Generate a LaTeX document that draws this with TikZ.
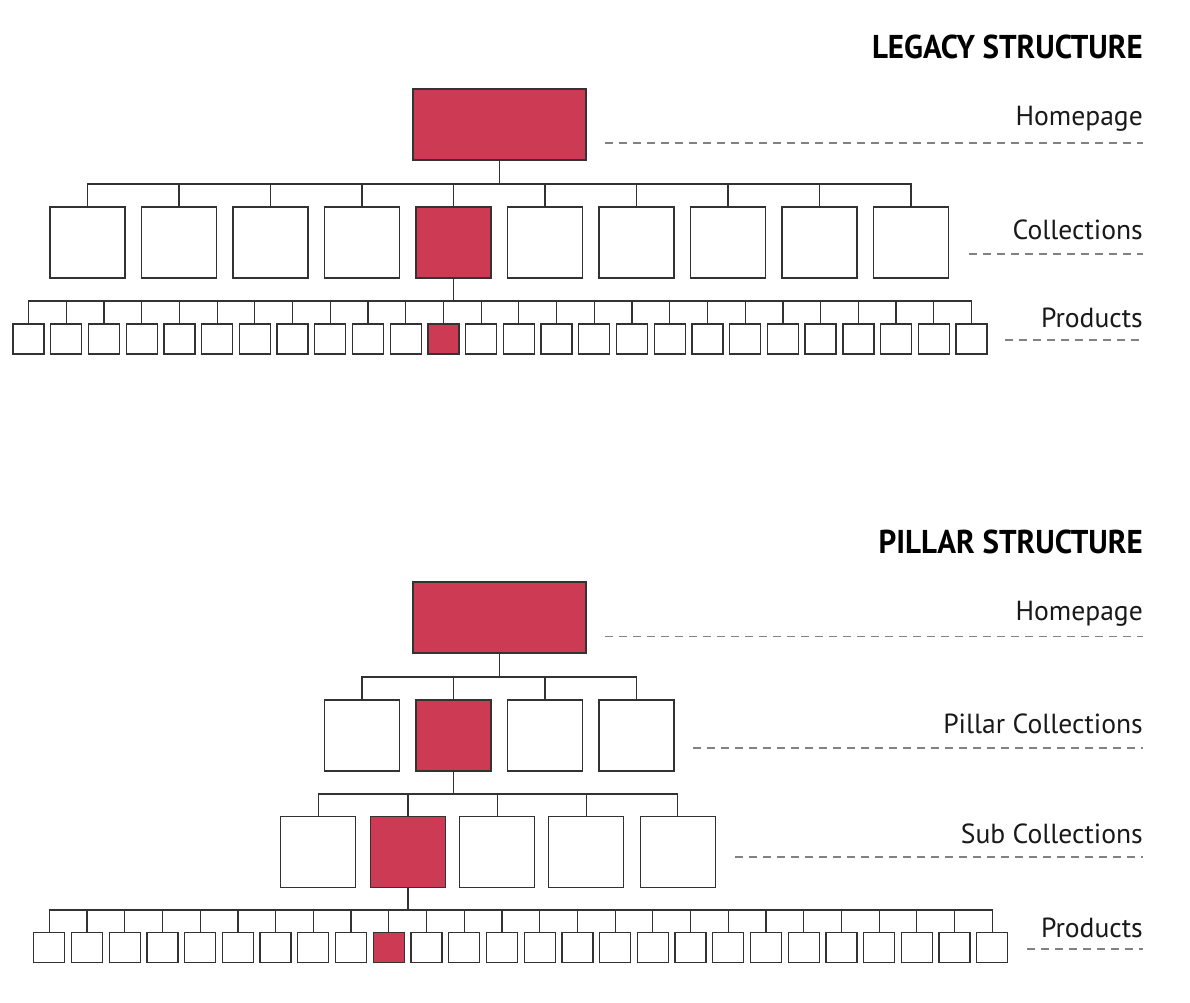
\documentclass[tikz,border=0pt]{standalone}
\usepackage{fontspec}
\setmainfont{PT Sans}
\newfontfamily\titlefont[FakeStretch=0.94]{PT Sans}
\definecolor{hl}{RGB}{204,58,84}
\definecolor{edge}{RGB}{50,50,50}
\definecolor{guide}{RGB}{130,130,130}
\begin{document}
\begin{tikzpicture}[x=1pt,y=-1pt,
  box/.style={draw=edge,line width=1.3pt,fill=white,rectangle,inner sep=0pt},
  bigbox/.style={box,minimum width=75pt,minimum height=71pt},
  smallbox/.style={box,minimum width=31pt,minimum height=30pt},
  hot/.style={fill=hl,draw=black!80},
  link/.style={draw=edge,line width=1.2pt},
  guideline/.style={draw=guide,line width=1.2pt,dash pattern=on 8pt off 6pt},
  title/.style={anchor=base east,inner sep=0pt,font=\titlefont\bfseries\fontsize{33}{33}\selectfont,text=black},
  level/.style={anchor=base east,inner sep=0pt,font=\fontsize{27.6}{27.6}\selectfont,text=black!90}]
\useasboundingbox[fill=white] (0,0) rectangle (1190,1002);

% ================= LEGACY =================
\node[title] (t1) at (1143,58) {LEGACY STRUCTURE};
\node[box,hot,minimum width=173pt,minimum height=71pt] (hp) at (499.5,124.5) {};
\coordinate (lbar) at (0,184);
\foreach \k in {0,...,9}{
  \pgfmathsetmacro\xx{87.5+91.5*\k}
  \ifnum\k=4
    \node[bigbox,hot] (lc\k) at (\xx,242.5) {};
  \else
    \node[bigbox] (lc\k) at (\xx,242.5) {};
  \fi
  \draw[link] (hp.south) -- (hp.south |- lbar) -| (lc\k.north);
}
\coordinate (lpbar) at (0,301);
\foreach \k in {0,...,25}{
  \pgfmathsetmacro\xx{28.5+37.72*\k}
  \ifnum\k=11
    \node[smallbox,hot] (lp\k) at (\xx,339) {};
  \else
    \node[smallbox] (lp\k) at (\xx,339) {};
  \fi
  \draw[link] (lc4.south) -- (lc4.south |- lpbar) -| (lp\k.north);
}
\node[level] (l1) at (1143,125) {Homepage};
\coordinate (g1a) at (605,143); \coordinate (g1b) at (1143,143);
\draw[guideline] (g1a) -- (g1b);
\node[level] (l2) at (1143,239) {Collections};
\coordinate (g2a) at (969,254); \coordinate (g2b) at (1143,254);
\draw[guideline] (g2a) -- (g2b);
\node[level] (l3) at (1143,327) {Products};
\coordinate (g3a) at (1005,340); \coordinate (g3b) at (1143,340);
\draw[guideline] (g3a) -- (g3b);

% ================= PILLAR =================
\node[title] (t2) at (1143,553) {PILLAR STRUCTURE};
\node[box,hot,minimum width=173pt,minimum height=71pt] (hp2) at (499.5,617.5) {};
\coordinate (pbar) at (0,677);
\foreach \xx [count=\k from 0] in {362,453.5,545,636.5}{
  \ifnum\k=1
    \node[bigbox,hot] (pc\k) at (\xx,735.5) {};
  \else
    \node[bigbox] (pc\k) at (\xx,735.5) {};
  \fi
  \draw[link] (hp2.south) -- (hp2.south |- pbar) -| (pc\k.north);
}
\coordinate (sbar) at (0,794);
\foreach \xx [count=\k from 0] in {318.3,408,497.2,586.3,677.8}{
  \ifnum\k=1
    \node[bigbox,hot] (sc\k) at (\xx,852.3) {};
  \else
    \node[bigbox] (sc\k) at (\xx,852.3) {};
  \fi
  \draw[link] (pc1.south) -- (pc1.south |- sbar) -| (sc\k.north);
}
\coordinate (ppbar) at (0,910);
\foreach \k in {0,...,25}{
  \pgfmathsetmacro\xx{49.3+37.72*\k}
  \ifnum\k=9
    \node[smallbox,hot] (pp\k) at (\xx,947.5) {};
  \else
    \node[smallbox] (pp\k) at (\xx,947.5) {};
  \fi
  \draw[link] (sc1.south) -- (sc1.south |- ppbar) -| (pp\k.north);
}
\node[level] (m1) at (1143,620) {Homepage};
\coordinate (h1a) at (605,636.5); \coordinate (h1b) at (1143,636.5);
\draw[guideline] (h1a) -- (h1b);
\node[level] (m2) at (1143,733) {Pillar Collections};
\coordinate (h2a) at (693,748); \coordinate (h2b) at (1143,748);
\draw[guideline] (h2a) -- (h2b);
\node[level] (m3) at (1143,843) {Sub Collections};
\coordinate (h3a) at (735,857); \coordinate (h3b) at (1143,857);
\draw[guideline] (h3a) -- (h3b);
\node[level] (m4) at (1143,937.5) {Products};
\coordinate (h4a) at (1027,949); \coordinate (h4b) at (1143,949);
\draw[guideline] (h4a) -- (h4b);
\end{tikzpicture}
\end{document}
